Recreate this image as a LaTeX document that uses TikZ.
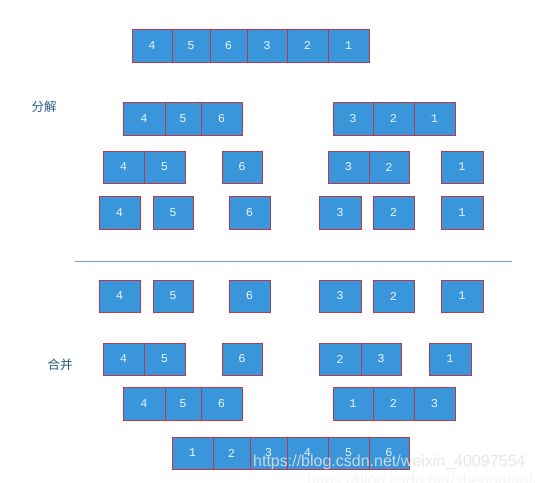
\documentclass[tikz,border=0pt]{standalone}
\usepackage{fontspec}
\setmonofont{Liberation Mono}
\newfontfamily\cjk{Noto Sans CJK SC}
\newfontfamily\wmfont{Liberation Sans}
\definecolor{cellfill}{HTML}{3A96DA}
\definecolor{cellline}{HTML}{B8384C}
\definecolor{celltext}{HTML}{E8F4FF}
\definecolor{labtext}{HTML}{2A5A86}
\definecolor{sepline}{HTML}{6E9CCB}
\newcommand\cel[6]{%
  \pgfmathsetmacro\cw{#3-#2}\pgfmathsetmacro\chh{#5-#4}%
  \node[cell,minimum width=\cw pt,minimum height=\chh pt] (#1) at ({(#2+#3)/2},{(#4+#5)/2}) {#6};}
\begin{document}
\begin{tikzpicture}[x=1pt,y=-1pt,
  cell/.style={draw=cellline,fill=cellfill,line width=0.8pt,inner sep=0pt,outer sep=0pt,
    text=celltext,font=\ttfamily\fontsize{12}{14}\selectfont},
  lab/.style={text=labtext,font=\cjk\fontsize{12.5}{14}\selectfont,inner sep=0pt},
  wm/.style={text=white!78!gray,font=\wmfont\fontsize{16}{18}\selectfont,inner sep=0pt,anchor=west}]
\useasboundingbox (0,0) rectangle (535,482);
\clip (0,0) rectangle (535,482);
\fill[white] (0,0) rectangle (535,482);
% row 1
\cel{a1}{132}{172}{29}{62}{4}\cel{a2}{172}{210}{29}{62}{5}\cel{a3}{210}{247}{29}{62}{6}
\cel{a4}{247}{287}{29}{62}{3}\cel{a5}{287}{328}{29}{62}{2}\cel{a6}{328}{369}{29}{62}{1}
% row 2
\cel{b1}{123}{165}{102}{135}{4}\cel{b2}{165}{201}{102}{135}{5}\cel{b3}{201}{242}{102}{135}{6}
\cel{b4}{333}{373}{102}{135}{3}\cel{b5}{373}{414}{102}{135}{2}\cel{b6}{414}{455}{102}{135}{1}
% row 3
\cel{c1}{103}{144}{151}{183}{4}\cel{c2}{144}{185}{151}{183}{5}\cel{c3}{222}{262}{151}{183}{6}
\cel{c4}{328}{369}{151}{183}{3}\cel{c5}{369}{409}{151}{183}{2}\cel{c6}{441}{483}{151}{183}{1}
% row 4
\cel{d1}{99}{140}{196}{229}{4}\cel{d2}{153}{193}{196}{229}{5}\cel{d3}{229}{270}{196}{229}{6}
\cel{d4}{319}{361}{196}{229}{3}\cel{d5}{373}{414}{196}{229}{2}\cel{d6}{441}{483}{196}{229}{1}
% separator
\coordinate (sl) at (75,261);
\coordinate (sr) at (512,261);
\draw[sepline,line width=0.9pt] (sl) -- (sr);
% row 5
\cel{e1}{99}{140}{280}{312}{4}\cel{e2}{153}{193}{280}{312}{5}\cel{e3}{229}{270}{280}{312}{6}
\cel{e4}{319}{361}{280}{312}{3}\cel{e5}{373}{414}{280}{312}{2}\cel{e6}{441}{483}{280}{312}{1}
% row 6
\cel{f1}{103}{144}{343}{375}{4}\cel{f2}{144}{185}{343}{375}{5}\cel{f3}{222}{262}{343}{375}{6}
\cel{f4}{319}{361}{343}{375}{2}\cel{f5}{361}{401}{343}{375}{3}\cel{f6}{429}{471}{343}{375}{1}
% row 7
\cel{g1}{123}{165}{387}{420}{4}\cel{g2}{165}{201}{387}{420}{5}\cel{g3}{201}{242}{387}{420}{6}
\cel{g4}{333}{373}{387}{420}{1}\cel{g5}{373}{414}{387}{420}{2}\cel{g6}{414}{455}{387}{420}{3}
% row 8
\cel{h1}{172}{213}{437}{469}{1}\cel{h2}{213}{250}{437}{469}{2}\cel{h3}{250}{287}{437}{469}{3}
\cel{h4}{287}{328}{437}{469}{4}\cel{h5}{328}{369}{437}{469}{5}\cel{h6}{369}{409}{437}{469}{6}
% labels
\node[lab] (fenjie) at (44,107) {分解};
\node[lab] (hebing) at (60,365) {合并};
% watermark
\node[wm,opacity=0.85] (wm1) at (253,462) {https://blog.csdn.net/weixin\_40097554};
\node[wm,opacity=0.35] (wm2) at (307,481) {https://blog.csdn.net/shengqianfeng};
\end{tikzpicture}
\end{document}
